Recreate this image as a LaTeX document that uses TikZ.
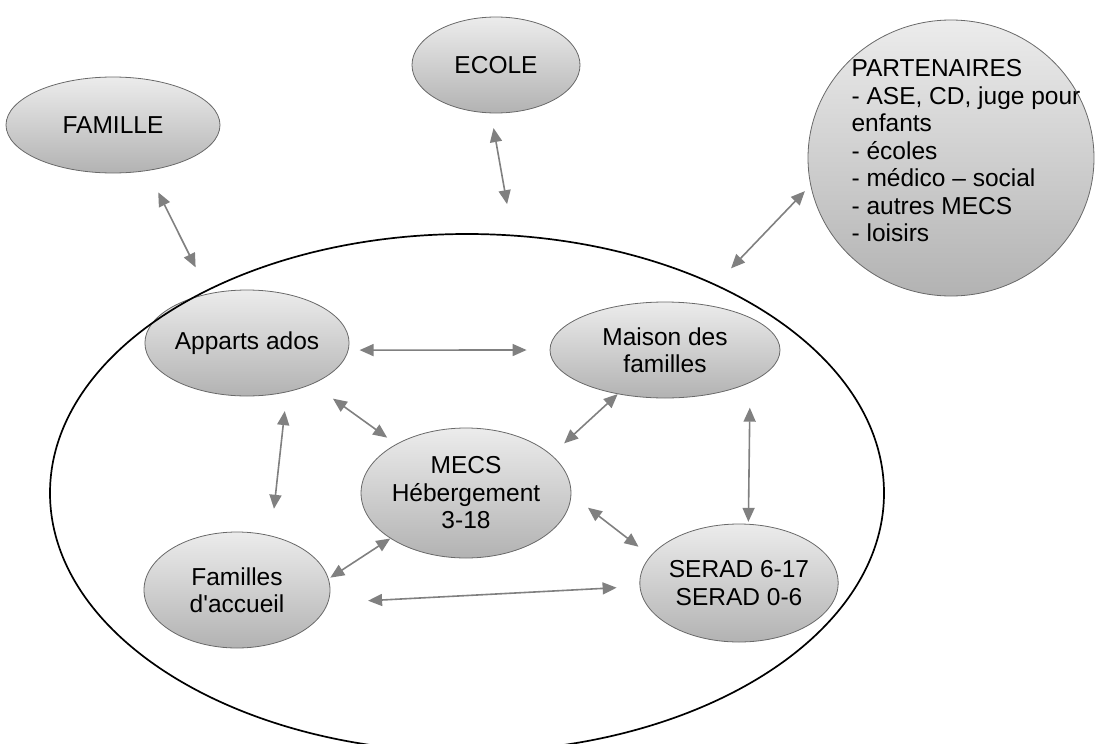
\documentclass[tikz,border=0pt]{standalone}
\usepackage{fontspec}
\setmainfont{Liberation Sans}
\usetikzlibrary{shapes.geometric,arrows.meta}
\definecolor{arrgray}{RGB}{128,128,128}
\definecolor{rimgray}{RGB}{105,105,105}
\pgfdeclarelayer{fg}
\pgfsetlayers{main,fg}
\tikzset{
  txt/.style={font=\fontsize{24.5}{27.5}\selectfont},
  bubble/.style={ellipse, inner sep=0pt, draw=rimgray, line width=0.8pt,
    top color=gray!15, bottom color=gray!60, align=center, txt},
  arr/.style={draw=arrgray, line width=1.6pt,
    {Triangle[length=14pt,width=12pt,fill=arrgray]}-{Triangle[length=14pt,width=12pt,fill=arrgray]}},
  outer/.style={ellipse, draw=black, line width=1.7pt, inner sep=0pt}
}
\begin{document}
\begin{tikzpicture}[x=1pt,y=-1pt]
\useasboundingbox (0,0) rectangle (1095,744);
\begin{pgfonlayer}{fg}
\node[outer, minimum width=834pt, minimum height=518pt] (home) at (467,493) {};
\end{pgfonlayer}
% outer nodes
\node[bubble, minimum width=214pt, minimum height=96pt] (famille) at (113,125) {FAMILLE};
\node[bubble, minimum width=168pt, minimum height=96pt] (ecole) at (496,65) {ECOLE};
\node[bubble, minimum width=286pt, minimum height=276pt] (part) at (951,158) {};
\node[align=left, txt, inner sep=0pt] (parttext) at (966,151)
  {PARTENAIRES\\- ASE, CD, juge pour\\enfants\\- écoles\\- médico – social\\- autres MECS\\- loisirs};
% inner nodes
\node[bubble, minimum width=186pt, minimum height=106pt] (apparts) at (247,343) {Apparts ados};
\node[bubble, minimum width=230pt, minimum height=96pt] (maison) at (665,350) {Maison des\\familles};
\node[bubble, minimum width=208pt, minimum height=130pt] (mecs) at (466,493) {MECS\\Hébergement\\3-18};
\node[bubble, minimum width=186pt, minimum height=116pt] (accueil) at (237,590) {Familles\\d\textquotesingle accueil};
\node[bubble, minimum width=188pt, minimum height=118pt] (serad) at (739,583) {SERAD 6-17\\SERAD 0-6};
% connectors
\draw[arr, shorten <=24pt, shorten >=25pt] (famille.-53) -- (home.142.9);
\draw[arr, shorten <=15pt, shorten >=31pt] (ecole.-96.5) -- (home.80.3);
\draw[arr, shorten <=8pt, shorten >=22pt] (part.191.3) -- (home.40.6);
\draw[arr, shorten <=11pt, shorten >=23pt] (apparts.-4.3) -- (maison.180);
\draw[arr, shorten <=25pt, shorten >=11pt] (apparts.-32.1) -- (mecs.145.3);
\draw[arr, shorten <=19pt, shorten >=27pt] (apparts.-51.9) -- (accueil.58.5);
\draw[arr, shorten <=17pt, shorten >=0pt] (mecs.24.6) -- (maison.223);
\draw[arr, shorten <=25pt, shorten >=2pt] (maison.-21.8) -- (serad.81.3);
\draw[arr, shorten <=21pt, shorten >=15pt] (mecs.-1.5) -- (serad.163.3);
\draw[arr, shorten <=0pt, shorten >=2pt] (mecs.211) -- (accueil.7.4);
\draw[arr, shorten <=40pt, shorten >=23pt] (accueil.-8.8) -- (serad.182.9);
\end{tikzpicture}
\end{document}
